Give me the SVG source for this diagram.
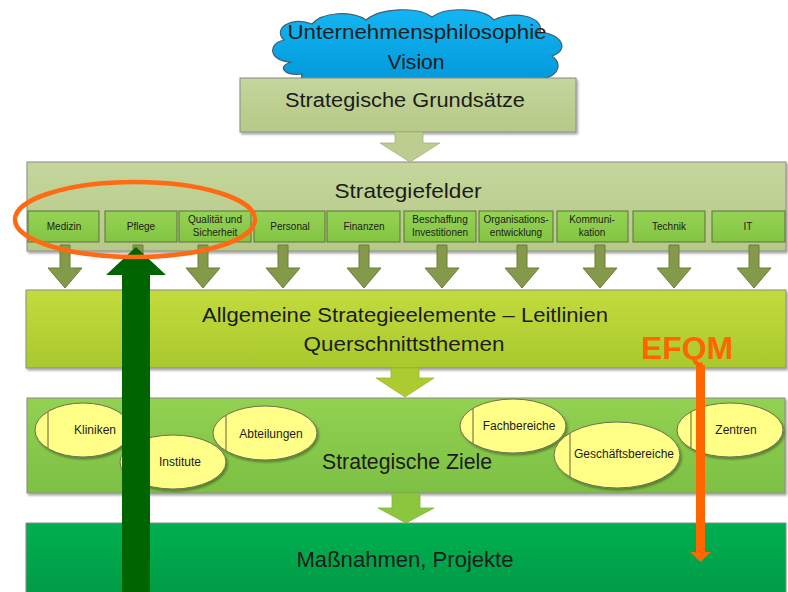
<svg xmlns="http://www.w3.org/2000/svg" width="788" height="592" viewBox="0 0 788 592">
<defs>
<linearGradient id="gCloud" x1="0" y1="0" x2="0" y2="1"><stop offset="0" stop-color="#12b6f2"/><stop offset="1" stop-color="#0094d6"/></linearGradient>
<linearGradient id="gOlive" x1="0" y1="0" x2="0" y2="1"><stop offset="0" stop-color="#c4d69c"/><stop offset="1" stop-color="#b6c986"/></linearGradient>
<linearGradient id="gSub" x1="0" y1="0" x2="0" y2="1"><stop offset="0" stop-color="#94d353"/><stop offset="1" stop-color="#84c443"/></linearGradient>
<linearGradient id="gAll" x1="0" y1="0" x2="0" y2="1"><stop offset="0" stop-color="#c3db3c"/><stop offset="1" stop-color="#a9c92e"/></linearGradient>
<linearGradient id="gZiele" x1="0" y1="0" x2="0" y2="1"><stop offset="0" stop-color="#93d152"/><stop offset="1" stop-color="#7cc043"/></linearGradient>
<linearGradient id="gMass" x1="0" y1="0" x2="0" y2="1"><stop offset="0" stop-color="#00b050"/><stop offset="1" stop-color="#009a46"/></linearGradient>
<filter id="sh" x="-10%" y="-10%" width="120%" height="130%"><feDropShadow dx="1.5" dy="2" stdDeviation="1.2" flood-color="#000" flood-opacity="0.35"/></filter>
</defs>
<style>
text{font-family:"Liberation Sans",Arial,sans-serif;fill:#1c1c1c;text-anchor:middle}
.big{font-size:20px}
.sub{font-size:10px}
.ell{font-size:12px}
.box{stroke:#8a8a8a;stroke-width:1}
.sb{fill:url(#gSub);stroke:#5b7040;stroke-width:1}
.oa{fill:#849a4a;stroke:#6c7d3a;stroke-width:1}
.el{fill:#ffff88;stroke:#6e6e50;stroke-width:1}
.el-line{stroke:#7d7a48;stroke-width:1.2}
</style>

<g id="cloud">
<path d="M292,62 C270,62 266,44 284,40 C272,28 292,16 312,24 C322,12 352,10 366,20 C380,8 418,6 432,17 C446,6 484,8 494,20 C512,10 545,16 540,32 C562,34 570,50 552,56 C566,66 554,82 534,78 C528,90 500,92 488,84 C470,94 430,94 418,86 C402,94 360,94 348,85 C330,92 298,88 302,74 C284,76 276,66 292,62 Z" fill="url(#gCloud)" stroke="#3f5f73" stroke-width="1.2"/>
<text x="417" y="39" class="big" textLength="259" lengthAdjust="spacingAndGlyphs">Unternehmensphilosophie</text>
<text x="416" y="69" class="big" textLength="57" lengthAdjust="spacingAndGlyphs">Vision</text>
</g>

<g id="grundsaetze">
<rect x="240" y="78" width="336" height="54" fill="url(#gOlive)" class="box" filter="url(#sh)"/>
<text x="405" y="107" class="big" textLength="240" lengthAdjust="spacingAndGlyphs">Strategische Grundsätze</text>
</g>

<g id="strategiefelder">
<rect x="27" y="162" width="759" height="89" fill="url(#gOlive)" class="box" filter="url(#sh)"/>
<text x="408" y="198" style="font-size:21px" textLength="147" lengthAdjust="spacingAndGlyphs">Strategiefelder</text>
</g>

<g id="feld-medizin"><rect x="28" y="211" width="71" height="31" class="sb"/><text x="64" y="230" class="sub">Medizin</text></g>
<g id="feld-pflege"><rect x="105" y="211" width="72" height="31" class="sb"/><text x="141" y="230" class="sub">Pflege</text></g>
<g id="feld-qualitaet"><rect x="179" y="211" width="72" height="31" class="sb"/><text x="215" y="223" class="sub">Qualität und</text><text x="215" y="236" class="sub">Sicherheit</text></g>
<g id="feld-personal"><rect x="254" y="211" width="71" height="31" class="sb"/><text x="290" y="230" class="sub">Personal</text></g>
<g id="feld-finanzen"><rect x="327" y="211" width="73" height="31" class="sb"/><text x="364" y="230" class="sub">Finanzen</text></g>
<g id="feld-beschaffung"><rect x="404" y="211" width="72" height="31" class="sb"/><text x="440" y="223" class="sub">Beschaffung</text><text x="440" y="236" class="sub">Investitionen</text></g>
<g id="feld-organisation"><rect x="479" y="211" width="74" height="31" class="sb"/><text x="516" y="223" class="sub">Organisations-</text><text x="516" y="236" class="sub">entwicklung</text></g>
<g id="feld-kommunikation"><rect x="557" y="211" width="71" height="31" class="sb"/><text x="592" y="223" class="sub">Kommuni-</text><text x="592" y="236" class="sub">kation</text></g>
<g id="feld-technik"><rect x="633" y="211" width="72" height="31" class="sb"/><text x="669" y="230" class="sub">Technik</text></g>
<g id="feld-it"><rect x="712" y="211" width="73" height="31" class="sb"/><text x="748" y="230" class="sub">IT</text></g>

<g id="allgemeine">
<rect x="26" y="290" width="760" height="78" fill="url(#gAll)" class="box" filter="url(#sh)"/>
<text x="405" y="322" style="font-size:19.5px" textLength="406" lengthAdjust="spacingAndGlyphs">Allgemeine Strategieelemente – Leitlinien</text>
<text x="404" y="351" style="font-size:19.5px" textLength="201" lengthAdjust="spacingAndGlyphs">Querschnittsthemen</text>
</g>

<g id="ziele">
<rect x="27" y="398" width="758" height="95" fill="url(#gZiele)" class="box" filter="url(#sh)"/>
</g>
<g id="ell-abteilungen"><ellipse cx="265" cy="433" rx="52" ry="27" class="el" filter="url(#sh)"/><line x1="226" y1="415" x2="226" y2="451" class="el-line"/><text x="271" y="438" class="ell">Abteilungen</text></g>
<g id="ell-kliniken"><ellipse cx="83" cy="430" rx="48" ry="27" class="el" filter="url(#sh)"/><line x1="48" y1="412" x2="48" y2="448" class="el-line"/><text x="95" y="434" class="ell">Kliniken</text></g>
<g id="ell-institute"><ellipse cx="173" cy="462" rx="53" ry="27" class="el" filter="url(#sh)"/><line x1="125" y1="451" x2="125" y2="473" class="el-line"/><text x="180" y="466" class="ell">Institute</text></g>
<g id="ell-fachbereiche"><ellipse cx="513" cy="426" rx="53" ry="27" class="el" filter="url(#sh)"/><line x1="473" y1="408" x2="473" y2="444" class="el-line"/><text x="519" y="430" class="ell">Fachbereiche</text></g>
<g id="ell-geschaeftsbereiche"><ellipse cx="617" cy="455" rx="63" ry="33" class="el" filter="url(#sh)"/><line x1="570" y1="433" x2="570" y2="477" class="el-line"/><text x="624" y="458" class="ell">Geschäftsbereiche</text></g>
<g id="ell-zentren"><ellipse cx="730" cy="430" rx="53" ry="27" class="el" filter="url(#sh)"/><line x1="691" y1="412" x2="691" y2="448" class="el-line"/><text x="736" y="434" class="ell">Zentren</text></g>
<g id="ziele-label"><text x="407" y="469" style="font-size:22px" textLength="170" lengthAdjust="spacingAndGlyphs">Strategische Ziele</text></g>

<g id="massnahmen">
<rect x="26" y="523" width="760" height="75" fill="url(#gMass)" class="box"/>
<text x="405" y="567" style="font-size:22px" textLength="217" lengthAdjust="spacingAndGlyphs">Maßnahmen, Projekte</text>
</g>

<g id="connectors">
<path d="M395,132 H423 V143 H440 L410,162 L380,143 H395 Z" fill="#bccd8f" stroke="#a3b379" stroke-width="0.8"/>
<path d="M60,245 H70 V268 H82 L65,288 L48,268 H60 Z" class="oa"/>
<path d="M133,245 H143 V268 H155 L138,288 L121,268 H133 Z" class="oa"/>
<path d="M198,245 H208 V268 H220 L203,288 L186,268 H198 Z" class="oa"/>
<path d="M278,245 H288 V268 H300 L283,288 L266,268 H278 Z" class="oa"/>
<path d="M359,245 H369 V268 H381 L364,288 L347,268 H359 Z" class="oa"/>
<path d="M437,245 H447 V268 H459 L442,288 L425,268 H437 Z" class="oa"/>
<path d="M517,245 H527 V268 H539 L522,288 L505,268 H517 Z" class="oa"/>
<path d="M595,245 H605 V268 H617 L600,288 L583,268 H595 Z" class="oa"/>
<path d="M669,245 H679 V268 H691 L674,288 L657,268 H669 Z" class="oa"/>
<path d="M749,245 H759 V268 H771 L754,288 L737,268 H749 Z" class="oa"/>
<path d="M391,368 H419 V378 H434 L405,397 L376,378 H391 Z" fill="#abcb31" stroke="#9cb82c" stroke-width="0.8"/>
<path d="M392,493 H420 V508 H434 L406,523 L378,508 H392 Z" fill="#8cc63f" stroke="#7db636" stroke-width="0.8"/>
<path d="M122,592 V275 H106 L136,247 L166,275 H150 V592 Z" fill="#006400"/>
<ellipse cx="135" cy="219.5" rx="120" ry="37.5" fill="none" stroke="#ff6a13" stroke-width="4.5"/>
<path d="M696,365 H705 V552 H711 L700.5,562 L690,552 H696 Z" fill="#ff6600"/>
</g>
<g id="efqm"><text x="687" y="359" style="font-size:32px;font-weight:bold;fill:#ff6600" textLength="92" lengthAdjust="spacingAndGlyphs">EFQM</text></g>
</svg>
